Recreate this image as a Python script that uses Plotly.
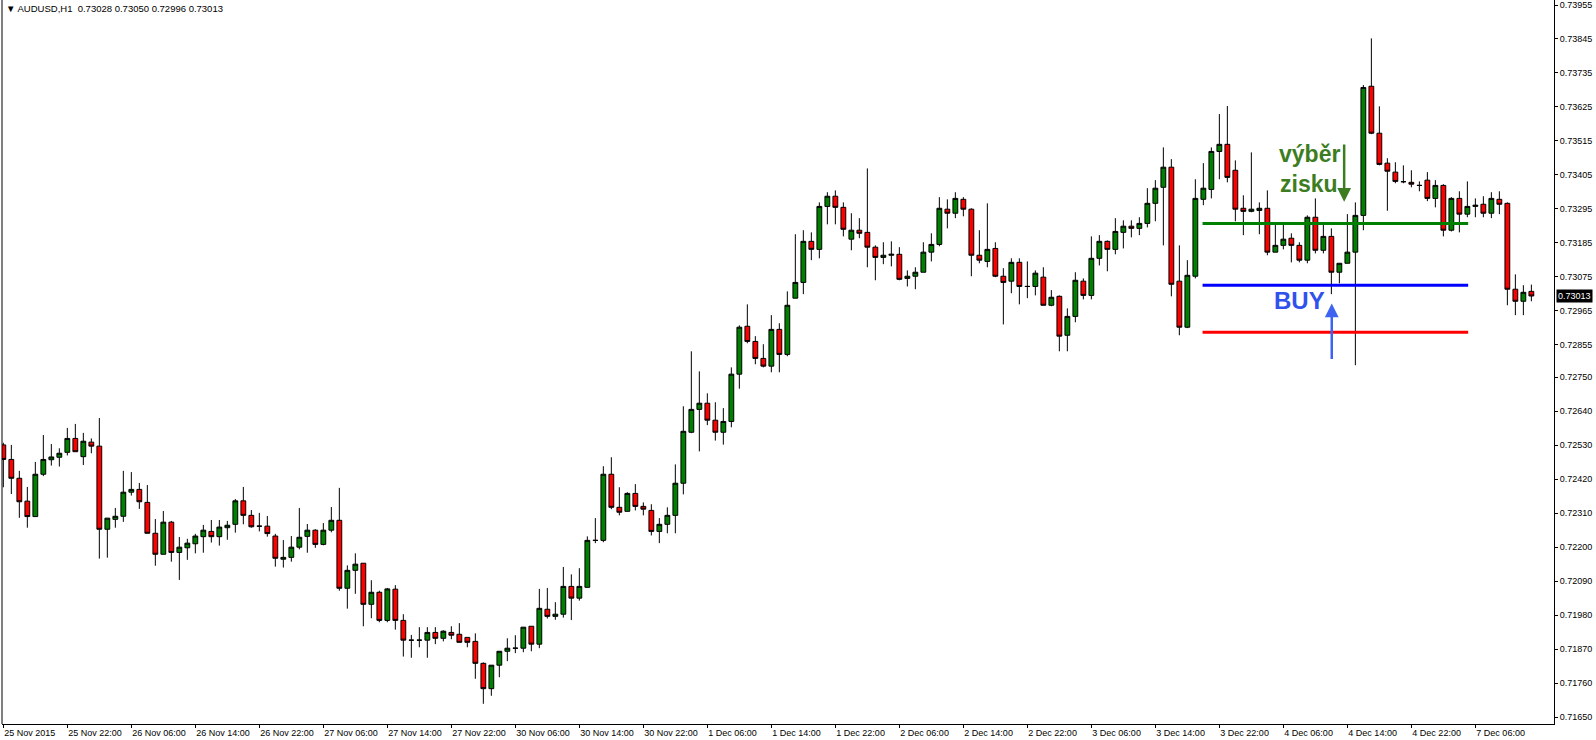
import plotly.graph_objects as go

# ---------------- data (AUDUSD, H1) ----------------
bar_index = list(range(192))

opens = [
    0.72531, 0.72484, 0.72423, 0.72349, 0.72299, 0.72436, 0.72483, 0.72491, 0.72507, 0.72552,
    0.72493, 0.72540, 0.72527, 0.72258, 0.72290, 0.72300, 0.72378, 0.72387, 0.72345, 0.72245,
    0.72177, 0.72281, 0.72183, 0.72198, 0.72211, 0.72234, 0.72251, 0.72234, 0.72263, 0.72274,
    0.72350, 0.72303, 0.72268, 0.72268, 0.72236, 0.72161, 0.72167, 0.72200, 0.72235, 0.72255,
    0.72209, 0.72255, 0.72287, 0.72067, 0.72125, 0.72148, 0.72015, 0.72054, 0.71963, 0.72064,
    0.71963, 0.71899, 0.71899, 0.71899, 0.71924, 0.71905, 0.71924, 0.71918, 0.71908, 0.71895,
    0.71824, 0.71742, 0.71818, 0.71863, 0.71873, 0.71873, 0.71944, 0.71886, 0.71999, 0.71976,
    0.71983, 0.72073, 0.72035, 0.72070, 0.72222, 0.72222, 0.72436, 0.72329, 0.72316, 0.72374,
    0.72332, 0.72319, 0.72251, 0.72274, 0.72303, 0.72407, 0.72572, 0.72646, 0.72666, 0.72611,
    0.72572, 0.72607, 0.72760, 0.72915, 0.72866, 0.72811, 0.72786, 0.72905, 0.72824, 0.73006,
    0.73057, 0.73190, 0.73164, 0.73303, 0.73336, 0.73300, 0.73197, 0.73226, 0.73219, 0.73171,
    0.73138, 0.73145, 0.73148, 0.73070, 0.73077, 0.73090, 0.73155, 0.73180, 0.73294, 0.73281,
    0.73326, 0.73294, 0.73145, 0.73125, 0.73167, 0.73077, 0.73061, 0.73122, 0.73044, 0.73044,
    0.73074, 0.72983, 0.73012, 0.72886, 0.72947, 0.73061, 0.73015, 0.73135, 0.73190, 0.73164,
    0.73219, 0.73239, 0.73232, 0.73248, 0.73313, 0.73365, 0.73430, 0.73061, 0.72912, 0.73077,
    0.73326, 0.73358, 0.73481, 0.73504, 0.73420, 0.73297, 0.73287, 0.73290, 0.73297, 0.73155,
    0.73177, 0.73200, 0.73177, 0.73129, 0.73268, 0.73161, 0.73206, 0.73090, 0.73119, 0.73155,
    0.73274, 0.73692, 0.73540, 0.73443, 0.73414, 0.73383, 0.73381, 0.73371, 0.73388, 0.73329,
    0.73371, 0.73226, 0.73329, 0.73278, 0.73303, 0.73310, 0.73281, 0.73326, 0.73313, 0.73035,
    0.72996, 0.73028,
]
highs = [
    0.72538, 0.72531, 0.72447, 0.72395, 0.72476, 0.72563, 0.72534, 0.72520, 0.72586, 0.72599,
    0.72570, 0.72552, 0.72618, 0.72294, 0.72327, 0.72447, 0.72443, 0.72408, 0.72401, 0.72291,
    0.72317, 0.72285, 0.72233, 0.72227, 0.72243, 0.72272, 0.72288, 0.72288, 0.72285, 0.72356,
    0.72395, 0.72320, 0.72311, 0.72301, 0.72243, 0.72223, 0.72236, 0.72327, 0.72275, 0.72258,
    0.72278, 0.72330, 0.72392, 0.72141, 0.72180, 0.72148, 0.72093, 0.72059, 0.72068, 0.72077,
    0.71983, 0.71916, 0.71941, 0.71941, 0.71941, 0.71931, 0.71944, 0.71954, 0.71908, 0.71921,
    0.71827, 0.71818, 0.71863, 0.71905, 0.71915, 0.71941, 0.71944, 0.72065, 0.72068, 0.72022,
    0.72136, 0.72112, 0.72132, 0.72235, 0.72294, 0.72462, 0.72491, 0.72394, 0.72378, 0.72404,
    0.72345, 0.72339, 0.72294, 0.72329, 0.72468, 0.72656, 0.72834, 0.72769, 0.72698, 0.72669,
    0.72650, 0.72782, 0.72918, 0.72986, 0.72883, 0.72857, 0.72951, 0.72925, 0.73028, 0.73213,
    0.73226, 0.73219, 0.73316, 0.73349, 0.73355, 0.73316, 0.73281, 0.73265, 0.73426, 0.73177,
    0.73187, 0.73190, 0.73171, 0.73096, 0.73106, 0.73187, 0.73216, 0.73333, 0.73326, 0.73349,
    0.73333, 0.73297, 0.73226, 0.73313, 0.73187, 0.73103, 0.73135, 0.73135, 0.73125, 0.73096,
    0.73106, 0.73032, 0.73015, 0.72973, 0.73090, 0.73070, 0.73206, 0.73210, 0.73193, 0.73265,
    0.73258, 0.73258, 0.73268, 0.73362, 0.73388, 0.73494, 0.73456, 0.73177, 0.73129, 0.73391,
    0.73443, 0.73494, 0.73602, 0.73628, 0.73452, 0.73339, 0.73478, 0.73316, 0.73355, 0.73245,
    0.73245, 0.73216, 0.73187, 0.73274, 0.73329, 0.73245, 0.73232, 0.73119, 0.73278, 0.73316,
    0.73696, 0.73847, 0.73627, 0.73459, 0.73446, 0.73436, 0.73420, 0.73384, 0.73414, 0.73388,
    0.73375, 0.73333, 0.73352, 0.73384, 0.73329, 0.73336, 0.73349, 0.73352, 0.73316, 0.73083,
    0.73048, 0.73050,
]
lows = [
    0.72394, 0.72372, 0.72295, 0.72263, 0.72299, 0.72430, 0.72464, 0.72461, 0.72497, 0.72509,
    0.72466, 0.72504, 0.72163, 0.72166, 0.72263, 0.72282, 0.72367, 0.72324, 0.72245, 0.72140,
    0.72177, 0.72153, 0.72094, 0.72159, 0.72180, 0.72182, 0.72215, 0.72205, 0.72224, 0.72247,
    0.72274, 0.72263, 0.72251, 0.72234, 0.72137, 0.72134, 0.72153, 0.72193, 0.72182, 0.72198,
    0.72206, 0.72248, 0.72059, 0.72001, 0.72049, 0.71944, 0.71970, 0.71957, 0.71957, 0.71933,
    0.71846, 0.71842, 0.71876, 0.71842, 0.71886, 0.71895, 0.71902, 0.71892, 0.71876, 0.71774,
    0.71693, 0.71719, 0.71779, 0.71831, 0.71857, 0.71860, 0.71863, 0.71873, 0.71969, 0.71965,
    0.71972, 0.71964, 0.72027, 0.72070, 0.72213, 0.72216, 0.72323, 0.72303, 0.72316, 0.72319,
    0.72303, 0.72238, 0.72213, 0.72245, 0.72245, 0.72371, 0.72569, 0.72510, 0.72595, 0.72545,
    0.72532, 0.72588, 0.72713, 0.72860, 0.72792, 0.72782, 0.72766, 0.72766, 0.72818, 0.73006,
    0.73019, 0.73129, 0.73135, 0.73245, 0.73245, 0.73206, 0.73161, 0.73200, 0.73106, 0.73064,
    0.73116, 0.73109, 0.73064, 0.73044, 0.73035, 0.73090, 0.73125, 0.73174, 0.73232, 0.73265,
    0.73271, 0.73077, 0.73119, 0.73106, 0.73074, 0.72921, 0.73022, 0.72986, 0.73006, 0.73015,
    0.72983, 0.72980, 0.72834, 0.72834, 0.72928, 0.73002, 0.73002, 0.73112, 0.73093, 0.73148,
    0.73167, 0.73203, 0.73210, 0.73235, 0.73255, 0.73177, 0.73012, 0.72886, 0.72909, 0.73070,
    0.73307, 0.73329, 0.73391, 0.73381, 0.73255, 0.73210, 0.73284, 0.73213, 0.73145, 0.73155,
    0.73164, 0.73122, 0.73122, 0.73119, 0.73151, 0.73151, 0.73019, 0.73054, 0.73119, 0.72789,
    0.73226, 0.73537, 0.73436, 0.73289, 0.73378, 0.73378, 0.73365, 0.73352, 0.73320, 0.73300,
    0.73206, 0.73222, 0.73219, 0.73268, 0.73268, 0.73268, 0.73265, 0.73278, 0.72983, 0.72951,
    0.72951, 0.72996,
]
closes = [
    0.72484, 0.72423, 0.72347, 0.72299, 0.72436, 0.72484, 0.72492, 0.72504, 0.72552, 0.72509,
    0.72543, 0.72527, 0.72258, 0.72294, 0.72300, 0.72378, 0.72387, 0.72347, 0.72245, 0.72177,
    0.72281, 0.72183, 0.72200, 0.72213, 0.72236, 0.72255, 0.72234, 0.72265, 0.72271, 0.72350,
    0.72303, 0.72266, 0.72268, 0.72244, 0.72164, 0.72167, 0.72200, 0.72232, 0.72255, 0.72209,
    0.72255, 0.72287, 0.72067, 0.72125, 0.72145, 0.72015, 0.72054, 0.71963, 0.72065, 0.71963,
    0.71899, 0.71899, 0.71899, 0.71924, 0.71905, 0.71928, 0.71915, 0.71892, 0.71892, 0.71824,
    0.71742, 0.71818, 0.71863, 0.71873, 0.71873, 0.71941, 0.71886, 0.72002, 0.71976, 0.71983,
    0.72073, 0.72035, 0.72073, 0.72222, 0.72222, 0.72436, 0.72329, 0.72313, 0.72374, 0.72332,
    0.72323, 0.72251, 0.72274, 0.72303, 0.72407, 0.72575, 0.72646, 0.72666, 0.72611, 0.72572,
    0.72607, 0.72760, 0.72912, 0.72866, 0.72811, 0.72786, 0.72905, 0.72824, 0.72983, 0.73057,
    0.73190, 0.73164, 0.73303, 0.73336, 0.73300, 0.73229, 0.73226, 0.73216, 0.73171, 0.73138,
    0.73145, 0.73148, 0.73067, 0.73077, 0.73090, 0.73155, 0.73180, 0.73297, 0.73281, 0.73329,
    0.73294, 0.73145, 0.73129, 0.73164, 0.73077, 0.73057, 0.73122, 0.73044, 0.73044, 0.73087,
    0.72983, 0.73009, 0.72883, 0.72947, 0.73064, 0.73015, 0.73135, 0.73190, 0.73164, 0.73222,
    0.73239, 0.73232, 0.73248, 0.73313, 0.73362, 0.73430, 0.73051, 0.72912, 0.73080, 0.73329,
    0.73362, 0.73481, 0.73504, 0.73397, 0.73294, 0.73287, 0.73294, 0.73297, 0.73155, 0.73177,
    0.73197, 0.73177, 0.73129, 0.73268, 0.73161, 0.73206, 0.73090, 0.73119, 0.73155, 0.73274,
    0.73688, 0.73540, 0.73439, 0.73417, 0.73384, 0.73383, 0.73375, 0.73371, 0.73329, 0.73371,
    0.73226, 0.73329, 0.73278, 0.73303, 0.73307, 0.73281, 0.73329, 0.73310, 0.73035, 0.72996,
    0.73025, 0.73013,
]

tick_index = list(range(0, 185, 8))
tick_labels = [
    "25 Nov 2015", "25 Nov 22:00", "26 Nov 06:00", "26 Nov 14:00", "26 Nov 22:00",
    "27 Nov 06:00", "27 Nov 14:00", "27 Nov 22:00", "30 Nov 06:00", "30 Nov 14:00",
    "30 Nov 22:00", "1 Dec 06:00", "1 Dec 14:00", "1 Dec 22:00", "2 Dec 06:00",
    "2 Dec 14:00", "2 Dec 22:00", "3 Dec 06:00", "3 Dec 14:00", "3 Dec 22:00",
    "4 Dec 06:00", "4 Dec 14:00", "4 Dec 22:00", "7 Dec 06:00",
]
price_ticks = [
    "0.73955", "0.73845", "0.73735", "0.73625", "0.73515", "0.73405", "0.73295",
    "0.73185", "0.73075", "0.72965", "0.72855", "0.72750", "0.72640", "0.72530",
    "0.72420", "0.72310", "0.72200", "0.72090", "0.71980", "0.71870", "0.71760", "0.71650",
]

# trade levels (take profit / buy / stop loss)
level_prices = [0.73248, 0.73048, 0.72896]
level_colors = ["#008000", "#0000FF", "#FF0000"]
level_start, level_end = 149.9, 183.1

last_bar = dict(o=0.73028, h=0.73050, l=0.72996, c=0.73013)

# ---------------- figure ----------------
FONT = "Liberation Sans"
fig = go.Figure()
fig.add_trace(go.Candlestick(
    x=bar_index, open=opens, high=highs, low=lows, close=closes,
    increasing=dict(fillcolor="#008000", line=dict(color="black", width=1)),
    decreasing=dict(fillcolor="#FF0000", line=dict(color="black", width=1)),
    whiskerwidth=0, hoverinfo="skip",
))
for p, c in zip(level_prices, level_colors):
    fig.add_trace(go.Scatter(
        x=[level_start, level_end], y=[p, p], mode="lines",
        line=dict(color=c, width=3), hoverinfo="skip",
    ))

green_txt = "#3C7D22"
blue_txt = "#2F52EC"
annotations = [
    dict(xref="paper", yref="paper", x=0.0, y=1.0, xanchor="left", yanchor="top", xshift=2, yshift=-1,
         text="▼ AUDUSD,H1  %.5f %.5f %.5f %.5f" % (last_bar["o"], last_bar["h"], last_bar["l"], last_bar["c"]),
         showarrow=False, font=dict(family=FONT, size=9.5, color="black")),
    dict(xref="paper", yref="y", x=1.0, y=last_bar["c"], xanchor="left", yanchor="middle", xshift=2,
         text="%.5f" % last_bar["c"], showarrow=False, bgcolor="black", borderpad=1,
         font=dict(family=FONT, size=9, color="white")),
    dict(x=159.2, y=0.73473, xanchor="left", yanchor="middle", text="<b>výběr</b>", showarrow=False,
         font=dict(family=FONT, size=23, color=green_txt)),
    dict(x=159.3, y=0.73377, xanchor="left", yanchor="middle", text="<b>zisku</b>", showarrow=False,
         font=dict(family=FONT, size=23, color=green_txt)),
    dict(x=162.0, y=0.72997, xanchor="center", yanchor="middle", text="<b>BUY</b>", showarrow=False,
         font=dict(family=FONT, size=24, color=blue_txt)),
    dict(x=167.6, y=0.73318, ax=167.6, ay=0.73508, axref="x", ayref="y", text="", showarrow=True,
         arrowhead=2, arrowsize=1.1, arrowwidth=2.5, arrowcolor=green_txt),
    dict(x=166.05, y=0.72989, ax=166.05, ay=0.72804, axref="x", ayref="y", text="", showarrow=True,
         arrowhead=2, arrowsize=1.1, arrowwidth=2.5, arrowcolor="#3D63F0"),
]

fig.update_layout(
    width=1596, height=740,
    margin=dict(l=2, r=42, t=0, b=16),
    paper_bgcolor="white", plot_bgcolor="white",
    showlegend=False, boxgap=0.4, boxgroupgap=0,
    annotations=annotations,
    shapes=[dict(type="line", xref="paper", yref="paper", x0=0, x1=0, y0=0, y1=1,
                 line=dict(color="black", width=1))],
    xaxis=dict(
        range=[-0.166, 193.83], rangeslider=dict(visible=False),
        showgrid=False, zeroline=False, fixedrange=True,
        tickmode="array", tickvals=tick_index, ticktext=tick_labels,
        ticks="outside", ticklen=3, tickcolor="black",
        ticklabelposition="outside right",
        showline=True, linecolor="black", linewidth=1,
        tickfont=dict(family=FONT, size=9, color="black"),
    ),
    yaxis=dict(
        side="right", range=[0.716276, 0.739712],
        showgrid=False, zeroline=False, fixedrange=True,
        tickmode="array", tickvals=[float(t) for t in price_ticks], ticktext=price_ticks,
        ticks="outside", ticklen=3, tickcolor="black",
        showline=True, linecolor="black", linewidth=1,
        tickfont=dict(family=FONT, size=9, color="black"),
    ),
)

fig.write_html(
    "out.html",
    config={"displayModeBar": False},
    post_script="document.body.style.margin='0px';document.body.style.overflow='hidden';",
)
